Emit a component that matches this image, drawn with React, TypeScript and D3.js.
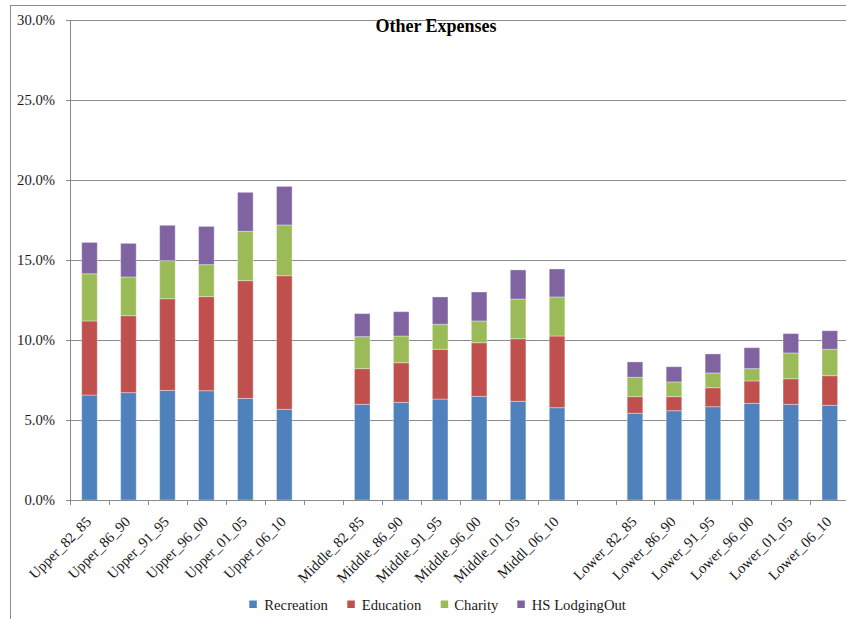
import React from "react";
import * as d3 from "d3";

// Category labels, in draw order; null marks an empty slot between groups.
const categories: (string | null)[] = [
  "Upper_82_85", "Upper_86_90", "Upper_91_95", "Upper_96_00", "Upper_01_05", "Upper_06_10",
  null,
  "Middle_82_85", "Middle_86_90", "Middle_91_95", "Middle_96_00", "Middle_01_05", "Middl_06_10",
  null,
  "Lower_82_85", "Lower_86_90", "Lower_91_95", "Lower_96_00", "Lower_01_05", "Lower_06_10",
];

// Share of spending (percent) per series, one value per labelled category.
const recreation = [6.56, 6.71, 6.85, 6.83, 6.35, 5.67, 5.98, 6.10, 6.31, 6.48, 6.17, 5.77, 5.42, 5.58, 5.83, 6.04, 5.98, 5.92];
const education = [4.63, 4.81, 5.73, 5.88, 7.36, 8.35, 2.23, 2.48, 3.11, 3.35, 3.91, 4.48, 1.04, 0.88, 1.19, 1.40, 1.60, 1.85];
const charity = [2.95, 2.42, 2.38, 2.00, 3.08, 3.17, 2.00, 1.67, 1.56, 1.36, 2.48, 2.44, 1.21, 0.92, 0.92, 0.77, 1.61, 1.65];
const hsLodgingOut = [1.96, 2.10, 2.21, 2.39, 2.44, 2.41, 1.44, 1.52, 1.71, 1.81, 1.82, 1.75, 0.96, 0.95, 1.19, 1.31, 1.21, 1.16];

const seriesNames = ["Recreation", "Education", "Charity", "HS LodgingOut"];
const seriesColors = ["#4F81BD", "#C0504D", "#9BBB59", "#8064A2"];
const yTicks = [0, 5, 10, 15, 20, 25, 30];

const W = 846;
const H = 619;
const FONT = '"Liberation Serif", "Times New Roman", serif';
const txt = { fontFamily: FONT } as React.CSSProperties;

export default function App() {
  const plot = { left: 70, right: 849.3, top: 20, bottom: 500 };

  const slotKeys = categories.map((c, i) => (c === null ? `gap${i}` : c));
  const x = d3.scaleBand<string>().domain(slotKeys).range([plot.left, plot.right]).paddingInner(0).paddingOuter(0);
  const y = d3.scaleLinear().domain([0, 30]).range([plot.bottom, plot.top]);

  const labelled = categories.filter((c): c is string => c !== null);
  const rows = labelled.map((name, i) => ({
    name,
    Recreation: recreation[i],
    Education: education[i],
    Charity: charity[i],
    "HS LodgingOut": hsLodgingOut[i],
  }));
  const stacked = d3.stack<any>().keys(seriesNames)(rows);

  const bw = x.bandwidth();
  const barW = bw * 0.4;
  const fmt = d3.format(".1f");

  // Legend layout: swatch x position and label x position
  const legend = [
    { sx: 249.3, tx: 264.3 },
    { sx: 347.3, tx: 361.7 },
    { sx: 440.7, tx: 454.3 },
    { sx: 517.3, tx: 531.7 },
  ];

  return (
    <svg width={W} height={H} style={{ position: "absolute", left: 0, top: 0, background: "#fff" }}>
      {/* chart frame */}
      <line x1={10} y1={5.5} x2={W} y2={5.5} stroke="#8c8c8c" strokeWidth={1} />
      <line x1={10.5} y1={5} x2={10.5} y2={H} stroke="#8c8c8c" strokeWidth={1} />

      {/* gridlines and y labels */}
      {yTicks.map((t) => (
        <g key={t}>
          <line x1={plot.left - 4} x2={plot.right} y1={Math.round(y(t)) + 0.5} y2={Math.round(y(t)) + 0.5} stroke="#8a8a8a" strokeWidth={1} />
          <text x={55} y={y(t)} dy="0.35em" textAnchor="end" fontSize={14.7} fill="#1a1a1a" style={txt}>
            {fmt(t)}%
          </text>
        </g>
      ))}

      {/* y axis line */}
      <line x1={plot.left + 0.5} x2={plot.left + 0.5} y1={plot.top} y2={plot.bottom} stroke="#8a8a8a" strokeWidth={1} />

      {/* stacked bars */}
      {stacked.map((layer, si) => (
        <g key={layer.key} fill={seriesColors[si]}>
          {layer.map((d, i) => {
            const cx = (x(rows[i].name) as number) + bw / 2;
            return (
              <rect
                key={i}
                x={cx - barW / 2}
                y={y(d[1])}
                width={barW}
                height={y(d[0]) - y(d[1])}
                stroke="#ffffff"
                strokeOpacity={0.35}
                strokeWidth={1}
              />
            );
          })}
        </g>
      ))}

      {/* x axis with tick marks at slot boundaries */}
      <line x1={plot.left} x2={plot.right} y1={plot.bottom + 0.5} y2={plot.bottom + 0.5} stroke="#8a8a8a" strokeWidth={1} />
      {slotKeys.map((k) => {
        const bx = Math.round(x(k) as number) + 0.5;
        return <line key={k} x1={bx} x2={bx} y1={plot.bottom} y2={plot.bottom + 5} stroke="#8a8a8a" strokeWidth={1} />;
      })}

      {/* rotated category labels */}
      {labelled.map((name) => {
        const cx = (x(name) as number) + bw / 2;
        return (
          <text
            key={name}
            transform={`translate(${cx - 1},${plot.bottom + 19}) rotate(-45)`}
            textAnchor="end"
            dy="0.35em"
            fontSize={14.7}
            fill="#1a1a1a"
            style={txt}
          >
            {name}
          </text>
        );
      })}

      {/* title */}
      <text x={436} y={32} textAnchor="middle" fontSize={18} fontWeight="bold" fill="#000" style={txt}>
        Other Expenses
      </text>

      {/* legend */}
      {seriesNames.map((n, i) => (
        <g key={n}>
          <rect x={legend[i].sx} y={600.5} width={7.5} height={7.5} fill={seriesColors[i]} />
          <text x={legend[i].tx} y={604.5} dy="0.35em" fontSize={14.7} fill="#1a1a1a" style={txt}>
            {n}
          </text>
        </g>
      ))}
    </svg>
  );
}
